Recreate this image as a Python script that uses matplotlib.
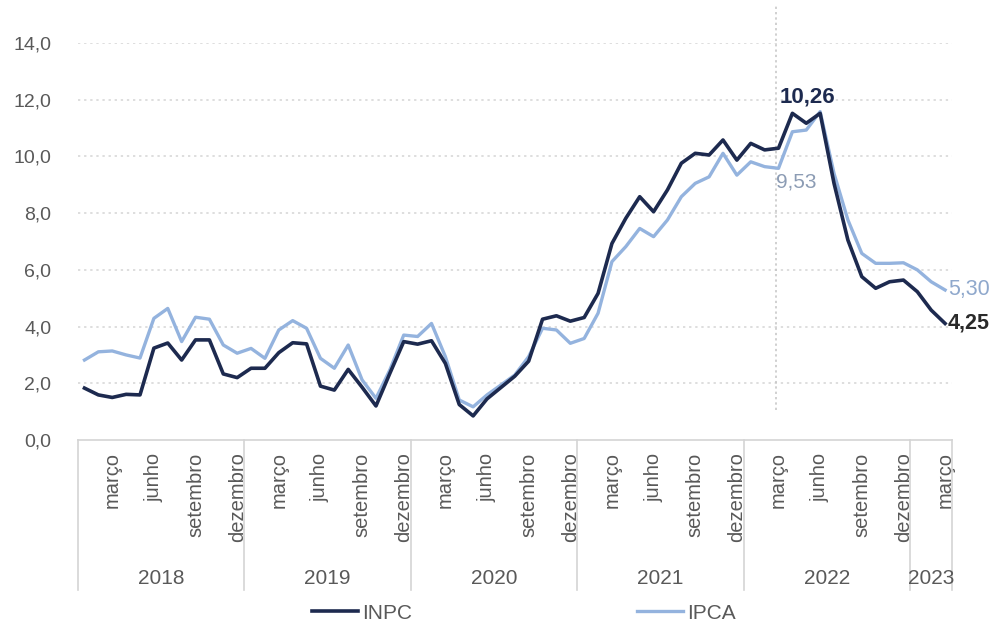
import matplotlib
matplotlib.use("Agg")
import matplotlib.pyplot as plt
import numpy as np

plt.rcParams['font.family'] = ['Liberation Sans', 'DejaVu Sans']

### DATA ###
years = ["2018", "2019", "2020", "2021", "2022", "2023"]
months_per_year = [12, 12, 12, 12, 12, 3]
month_names = ["março", "junho", "setembro", "dezembro"]
month_ticks = [2, 5, 8, 11]            # month index within a year

inpc = [1.83, 1.59, 1.50, 1.61, 1.59, 3.24, 3.42, 2.82, 3.53, 3.53, 2.33, 2.20,
        2.53, 2.53, 3.08, 3.43, 3.39, 1.90, 1.76, 2.49, 1.86, 1.20, 2.35, 3.47,
        3.38, 3.50, 2.70, 1.25, 0.85, 1.45, 1.85, 2.25, 2.78, 4.26, 4.38, 4.19,
        4.32, 5.17, 6.93, 7.82, 8.58, 8.05, 8.82, 9.76, 10.11, 10.05, 10.58, 9.87,
        10.46, 10.23, 10.29, 11.52, 11.17, 11.52, 9.05, 7.05, 5.76, 5.35, 5.58, 5.64,
        5.23, 4.58, 4.11]
ipca = [2.82, 3.11, 3.14, 3.00, 2.89, 4.29, 4.64, 3.47, 4.33, 4.26, 3.35, 3.06,
        3.23, 2.88, 3.88, 4.21, 3.94, 2.88, 2.53, 3.35, 2.12, 1.47, 2.47, 3.70,
        3.65, 4.11, 2.94, 1.41, 1.17, 1.59, 1.94, 2.29, 2.94, 3.94, 3.88, 3.41,
        3.58, 4.47, 6.29, 6.82, 7.46, 7.17, 7.76, 8.58, 9.05, 9.28, 10.11, 9.34,
        9.81, 9.64, 9.58, 10.87, 10.93, 11.58, 9.40, 7.76, 6.58, 6.23, 6.23, 6.25,
        6.00, 5.58, 5.29]

# labels drawn in the chart
peak_labels = [("10,26", 52.05, 12.09), ("9,53", 51.3, 9.10)]
end_labels = ["4,25", "5,30"]
mark_month = 49.8                       # dotted reference line (março 2022)

### STYLE ###
C_INPC = "#1d2a4f"
C_IPCA = "#94b3de"
GREY = "#595959"
LINEC = "#d4d4d4"

fig = plt.figure(figsize=(9.89, 6.25), dpi=100)
ax = fig.add_axes([0.0784, 0.296, 0.8842, 0.6352])

x = np.arange(len(inpc))
ax.plot(x, ipca, color=C_IPCA, lw=2.4, label="IPCA", zorder=3)
ax.plot(x, inpc, color=C_INPC, lw=2.6, label="INPC", zorder=4)

ax.set_xlim(-0.5, len(inpc) - 0.5)
ax.set_ylim(0, 14)

# y axis
yt = np.arange(0, 15, 2)
ax.set_yticks(yt)
ax.set_yticklabels([f"{v:.1f}".replace(".", ",") for v in yt], fontsize=14, color=GREY)
ax.tick_params(axis="y", length=0, pad=19)
for v in yt[1:]:
    ax.axhline(v, color=LINEC, lw=1.1, ls=(0, (1.5, 2.5)), zorder=1)

for s in ["top", "right", "left"]:
    ax.spines[s].set_visible(False)
ax.spines["bottom"].set_color(LINEC)
ax.spines["bottom"].set_linewidth(1.2)

# month ticks
pos, labs = [], []
start = 0
for n in months_per_year:
    for m, name in zip(month_ticks, month_names):
        if m < n:
            pos.append(start + m)
            labs.append(name)
    start += n
ax.set_xticks(pos)
ax.set_xticklabels(labs, rotation=90, fontsize=14.5, color=GREY, va="top", ha="center")
ax.tick_params(axis="x", length=0, pad=9)

# year groups
trans = ax.get_xaxis_transform()
start = 0
bounds = [-0.5]
for yr, n in zip(years, months_per_year):
    ax.text(start + n / 2 - 0.5, -0.348, yr, transform=trans, ha="center", va="center",
            fontsize=15, color=GREY)
    start += n
    bounds.append(start - 0.5)
for b in bounds:
    ax.plot([b, b], [0, -0.378], transform=trans, color=LINEC, lw=1.2, clip_on=False)

# dotted reference line
ax.plot([mark_month, mark_month], [1.05, 15.3], color="#c4c4c4", lw=1.1,
        ls=(0, (1.5, 2)), clip_on=False, zorder=2)

# labels
ax.text(peak_labels[0][1], peak_labels[0][2], peak_labels[0][0], ha="center", va="center",
        fontsize=16, fontweight="bold", color=C_INPC)
ax.text(peak_labels[1][1], peak_labels[1][2], peak_labels[1][0], ha="center", va="center",
        fontsize=15, color="#8c9cb4")
ax.annotate(end_labels[0], (x[-1], inpc[-1]), xytext=(2, 0), textcoords="offset points",
            ha="left", va="center", fontsize=15.5, fontweight="bold", color="#2a2a2a",
            annotation_clip=False)
ax.annotate(end_labels[1], (x[-1], ipca[-1]), xytext=(2, 0), textcoords="offset points",
            ha="left", va="center", fontsize=15.5, color="#8fa8cc", annotation_clip=False)

# legend
h_ipca, h_inpc = ax.get_lines()[0], ax.get_lines()[1]
fig.legend([h_inpc, h_ipca], ["INPC", "IPCA"], loc="center", bbox_to_anchor=(0.53, 0.019),
           ncol=2, frameon=False, fontsize=15, handlelength=2.2, handletextpad=0.2,
           columnspacing=10.8, labelcolor=GREY)

fig.savefig("out.png", dpi=100)
